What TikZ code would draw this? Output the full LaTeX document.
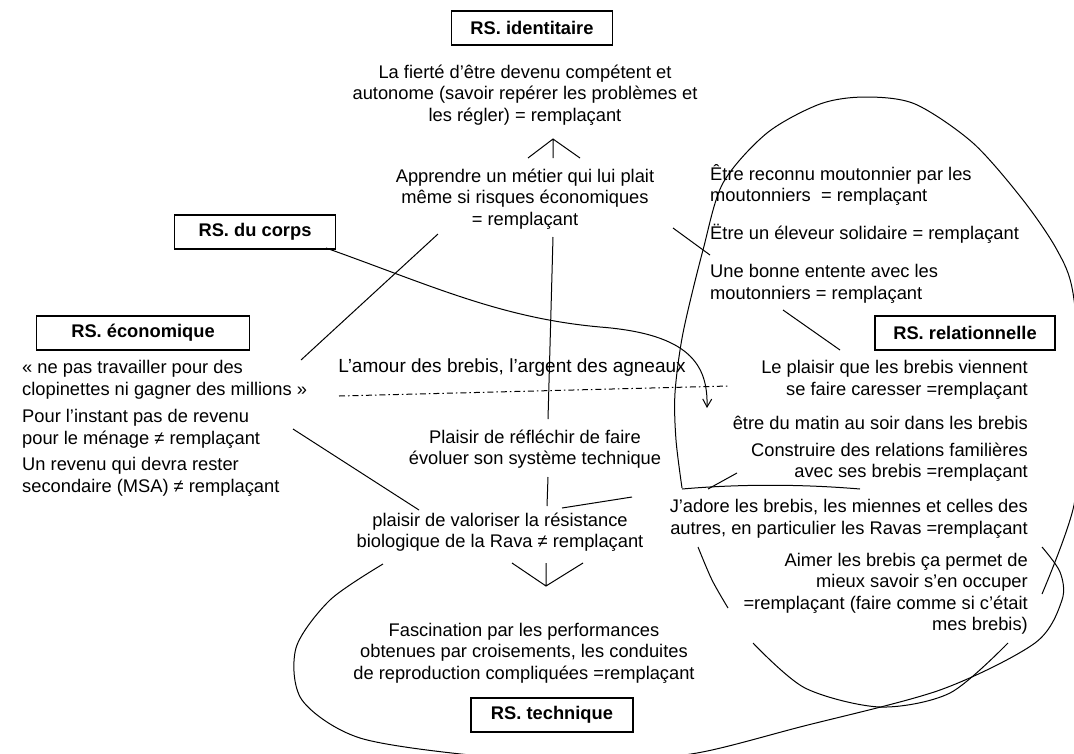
\documentclass[tikz,border=0pt]{standalone}
\usepackage{fontspec}
\setmainfont{Liberation Sans}
\usetikzlibrary{arrows.meta,calc}

\tikzset{
  rsbox/.style={draw, line width=1.2pt, font=\fontsize{18.3}{21.5}\selectfont\bfseries, minimum height=34pt, inner sep=0pt},
  txt/.style={align=center, inner sep=0pt},
  txtl/.style={align=left, anchor=west, inner sep=0pt},
  txtr/.style={align=right, anchor=east, inner sep=0pt},
  trait/.style={line width=1pt},
}

\begin{document}
\begin{tikzpicture}[x=1pt,y=-1pt,font=\fontsize{18.3}{21.5}\selectfont]
\useasboundingbox (0,0) rectangle (1074,753);

% Boxes
\node[rsbox, minimum width=161pt] (ident) at (532,28) {RS. identitaire};
\node[rsbox, minimum width=161pt] (corps) at (255,232) {RS. du corps};
\node[rsbox, minimum width=213pt] (eco) at (143,333) {RS. économique};
\node[rsbox, minimum width=180pt] (relat) at (965,333) {RS. relationnelle};
\node[rsbox, minimum width=162pt] (techn) at (552,715) {RS. technique};

% Identity texts
\node[txt] (fierte) at (525,95) {La fierté d’être devenu compétent et\\autonome (savoir repérer les problèmes et\\les régler) = remplaçant};
\node[txt] (metier) at (525,199) {Apprendre un métier qui lui plait\\même si risques économiques\\= remplaçant};

% Relational texts
\node[txtl] (reconnu) at (710,185) {Être reconnu moutonnier par les\\moutonniers \ = remplaçant};
\node[txtl] (solid) at (710,234) {Ëtre un éleveur solidaire = remplaçant};
\node[txtl] (entente) at (710,284) {Une bonne entente avec les\\moutonniers = remplaçant};
\node[txtr] (caresse) at (1028,380) {Le plaisir que les brebis viennent\\se faire caresser =remplaçant};
\node[txtr] (matin) at (1028,423) {être du matin au soir dans les brebis};
\node[txtr] (famil) at (1028,462) {Construire des relations familières\\avec ses brebis =remplaçant};
\node[txtr] (adore) at (1028,519) {J’adore les brebis, les miennes et celles des\\autres, en particulier les Ravas =remplaçant};
\node[txtr] (aimer) at (1028,594) {Aimer les brebis ça permet de\\mieux savoir s’en occuper\\=remplaçant (faire comme si c’était\\mes brebis)};

% Economic texts
\node[txtl] (clopin) at (22,380) {« ne pas travailler pour des\\clopinettes ni gagner des millions »};
\node[txtl] (revenu) at (22,429) {Pour l’instant pas de revenu\\pour le ménage ≠ remplaçant};
\node[txtl] (msa) at (22,477) {Un revenu qui devra rester\\secondaire (MSA) ≠ remplaçant};

% Middle and technical texts
\node[txt, font=\fontsize{19}{21.5}\selectfont] (amour) at (512,368) {L’amour des brebis, l’argent des agneaux};
\node[txt] (reflech) at (535,449) {Plaisir de réfléchir de faire\\évoluer son système technique};
\node[txt] (rava) at (500,532) {plaisir de valoriser la résistance\\biologique de la Rava ≠ remplaçant};
\node[txt] (fascin) at (524,653) {Fascination par les performances\\obtenues par croisements, les conduites\\de reproduction compliquées =remplaçant};

% Free ends
\coordinate (ha) at (553,139);
\coordinate (hl) at (528,158);
\coordinate (hr) at (580,158);
\coordinate (hb) at (553,158);
\coordinate (va) at (546,586);
\coordinate (vl) at (512,563);
\coordinate (vr) at (583,563);
\coordinate (vb) at (546,563);
\coordinate (d1) at (339,396);
\coordinate (d2) at (729,386);

% Links
\draw[trait] (hl) -- (ha) -- (hr) (ha) -- (hb);
\draw[trait] (vl) -- (va) -- (vr) (va) -- (vb);
\draw[trait] (438,234) -- (301,360);
\draw[trait] (553,237) -- (548,419);
\draw[trait] (548,477) -- (547,506);
\draw[trait] (673,228) -- (710,255);
\draw[trait] (783,310) -- (840,350);
\draw[trait] (293,429) -- (419,510);
\draw[trait] (562,508) -- (632,497);
\draw[trait] (682,489) .. controls (740,484) and (800,484) .. (860,489);
\draw[trait] (708,489) -- (737,473);
\draw[trait, dash pattern=on 6pt off 3pt on 1.5pt off 3pt] (d1) -- (d2);

% RS. du corps arrow
\draw[trait, -{Straight Barb[length=8pt,width=9pt]}] (326,248) .. controls (430,285) and (500,318) .. (600,327) .. controls (690,334) and (708,365) .. (707,408);

% Relational loop
\draw[trait] plot[smooth] coordinates {(682,488) (676,440) (675,393) (683,333) (703,250) (723,183) (767,133) (820,104) (865,97) (915,104) (973,143) (1023,200) (1057,250) (1073,293) (1082,400) (1074,505) (1042,594)};
\draw[trait] plot[smooth] coordinates {(698,547) (712,580) (728,608)};
\draw[trait] plot[smooth] coordinates {(753,643) (805,688) (880,707) (950,693) (1008,643)};

% Technical loop
\draw[trait] plot[smooth] coordinates {(383,564) (330,600) (296,648) (302,700) (360,738) (480,756) (600,762) (697,753) (800,727) (940,690) (1035,643) (1062,600) (1060,572) (1042,547)};
\end{tikzpicture}
\end{document}
